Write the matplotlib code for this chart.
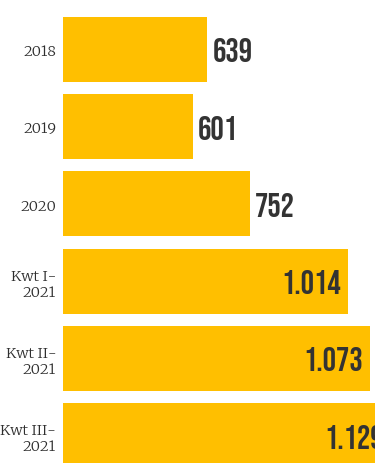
import matplotlib
matplotlib.use("Agg")
import matplotlib.pyplot as plt

categories = ["2018", "2019", "2020", "Kwt I-\n2021", "Kwt II-\n2021", "Kwt III-\n2021"]
values = [639, 601, 752, 1014, 1073, 1129]
value_labels = ["639", "601", "752", "1.014", "1.073", "1.129"]
inside = [False, False, False, True, True, True]

BAR = "#FFBF00"
TXT = "#333333"
LBL = "#2e2e2e"

W, H = 375, 464
fig = plt.figure(figsize=(W / 100, H / 100), dpi=100)
ax = fig.add_axes([63 / W, 0, 1 - 63 / W, 1])

ypos = list(range(len(categories)))
ax.barh(ypos, values, height=0.84, color=BAR, zorder=2)

x0 = 254
px_per_unit = 0.375
ax.set_xlim(x0, x0 + (W - 63) / px_per_unit)
ax.set_ylim(5.356, -0.654)

for i, (v, lab, ins) in enumerate(zip(values, value_labels, inside)):
    if ins:
        ax.annotate(lab, (v, i), xytext=(-7, 0), textcoords="offset pixels",
                    ha="right", va="center", fontsize=24, family="Bebas Neue",
                    color=TXT, annotation_clip=False, zorder=3)
    else:
        ax.annotate(lab, (v, i), xytext=(5, 0), textcoords="offset pixels",
                    ha="left", va="center", fontsize=24, family="Bebas Neue",
                    color=TXT, annotation_clip=False, zorder=3)

ax.set_yticks(ypos)
ax.set_yticklabels(categories, fontsize=10.5, family="Merriweather", color=LBL,
                   linespacing=1.15)
ax.tick_params(axis="y", length=0, pad=5)
ax.set_xticks([])
for s in ax.spines.values():
    s.set_visible(False)

fig.savefig("out.png", dpi=100)
